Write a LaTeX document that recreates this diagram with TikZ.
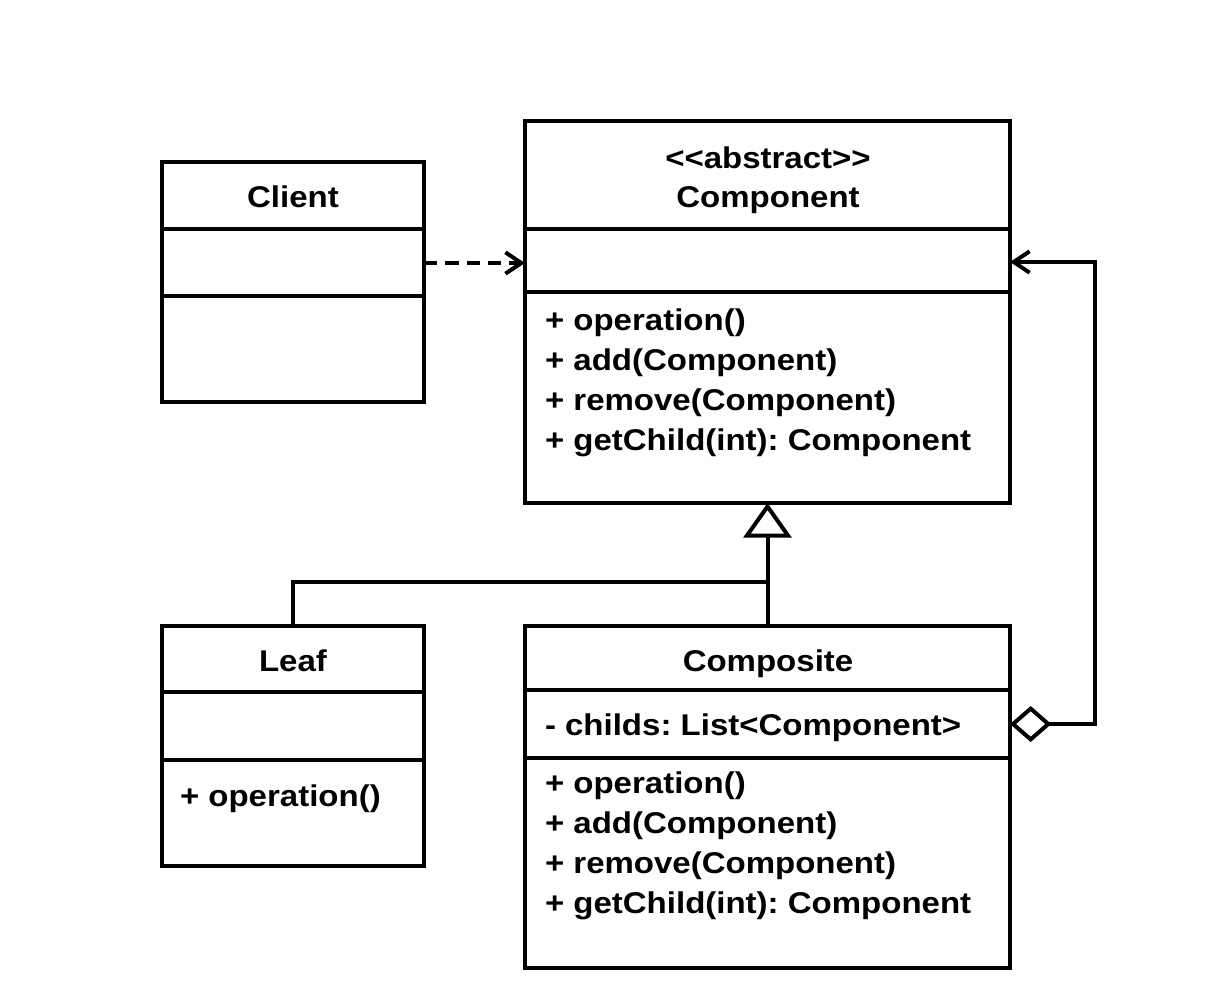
\documentclass[tikz,border=0pt]{standalone}
\usepackage{fontspec}
\setmainfont{Liberation Sans}[FakeStretch=1.1]
\usetikzlibrary{arrows.meta,fit}
\begin{document}
\frenchspacing
\begin{tikzpicture}[x=0.75pt,y=-0.75pt,line width=3pt,
  box/.style={draw,inner sep=0pt,outer sep=0pt},
  ttl/.style={font=\bfseries\fontsize{22.5}{28.5}\selectfont,inner sep=0pt,anchor=base},
  mem/.style={font=\bfseries\fontsize{22.5}{30}\selectfont,inner sep=0pt,anchor=base west,align=left},
  barb/.style={-{Straight Barb[length=12pt,width=16pt]}}]
\fill[white] (0,0) rectangle (1211,1000);
\useasboundingbox (0,0) rectangle (1211,1000);
% boxes
\coordinate (c1a) at (162,162); \coordinate (c1b) at (424,402);
\node[box,fit=(c1a)(c1b)] (client) {};
\coordinate (c2a) at (525,121); \coordinate (c2b) at (1010,503);
\node[box,fit=(c2a)(c2b)] (comp) {};
\coordinate (c3a) at (162,626); \coordinate (c3b) at (424,866);
\node[box,fit=(c3a)(c3b)] (leaf) {};
\coordinate (c4a) at (525,626); \coordinate (c4b) at (1010,968);
\node[box,fit=(c4a)(c4b)] (composite) {};
% dividers
\draw (client.west |- 0,229) -- (client.east |- 0,229);
\draw (client.west |- 0,296) -- (client.east |- 0,296);
\draw (comp.west |- 0,229) -- (comp.east |- 0,229);
\draw (comp.west |- 0,292) -- (comp.east |- 0,292);
\draw (leaf.west |- 0,692) -- (leaf.east |- 0,692);
\draw (leaf.west |- 0,760) -- (leaf.east |- 0,760);
\draw (composite.west |- 0,690) -- (composite.east |- 0,690);
\draw (composite.west |- 0,758) -- (composite.east |- 0,758);
% texts
\node[ttl] (clientT) at (293,207) {Client};
\node[ttl] (compS) at (768,168) {{<}{<}abstract{>}{>}};
\node[ttl] (compT) at (768,207) {Component};
\node[ttl] (leafT) at (293,671) {Leaf};
\node[ttl] (compositeT) at (768,671) {Composite};
\node[mem] (compM) at (543,450) {+ operation()\\+ add(Component)\\+ remove(Component)\\+ getChild(int): Component};
\node[mem] (leafM) at (178,806) {+ operation()};
\node[mem] (compositeA) at (543,735) {- childs: List{<}Component{>}};
\node[mem] (compositeM) at (543,913) {+ operation()\\+ add(Component)\\+ remove(Component)\\+ getChild(int): Component};
% connectors
\draw[dash pattern=on 10pt off 6pt,barb] (client.east |- 0,263) -- (comp.west |- 0,263);
\draw[-{Triangle[open,length=26pt,width=36pt]}] (composite.north) -- (comp.south);
\draw (leaf.north) |- (composite.north |- 0,582);
\draw[{Diamond[open,length=31pt,width=27pt]}-{Straight Barb[length=12pt,width=16pt]}] (composite.east |- 0,724) -| (1095,262) -- (comp.east |- 0,262);
\end{tikzpicture}
\end{document}
